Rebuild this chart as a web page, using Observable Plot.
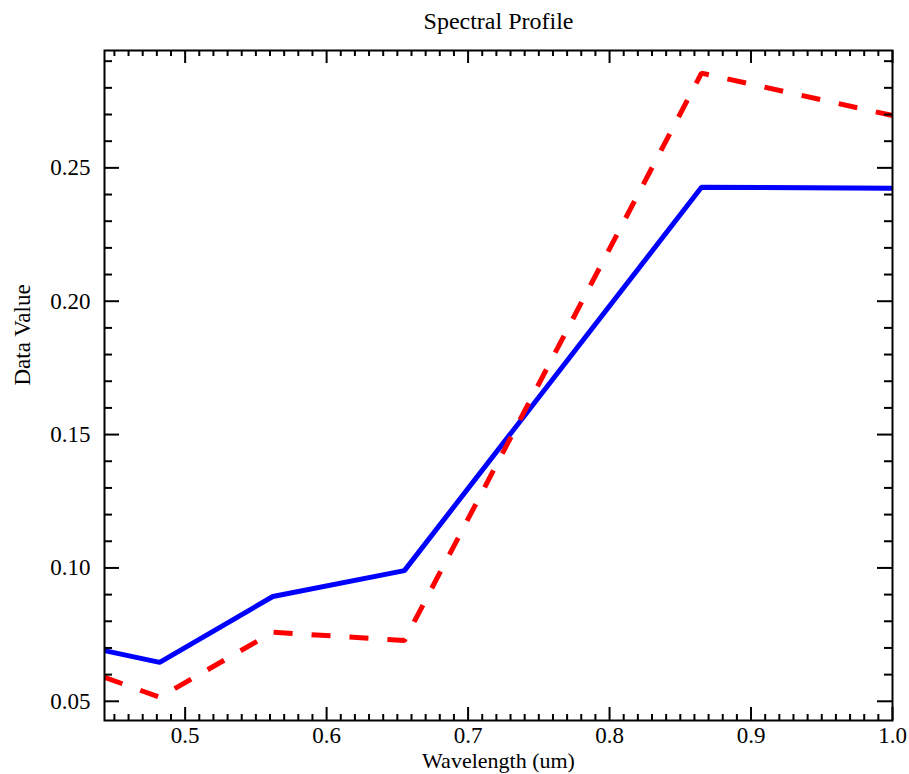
<!DOCTYPE html>
<html><head><meta charset="utf-8">
<script src="https://cdn.jsdelivr.net/npm/d3@7"></script>
<script src="https://cdn.jsdelivr.net/npm/@observablehq/plot@0.6"></script>
<style>body{margin:0;background:#fff}</style>
</head><body><div id="chart"></div>
<script>
// Data
const wavelengths = [0.443, 0.482, 0.562, 0.655, 0.865, 1.609];
const seriesBlue  = [0.069, 0.0646, 0.0893, 0.099, 0.2427, 0.241];
const seriesRed   = [0.059, 0.0515, 0.0759, 0.0728, 0.2855, 0.198];
const xTickValues = [0.5, 0.6, 0.7, 0.8, 0.9, 1.0];
const yTickValues = [0.05, 0.10, 0.15, 0.20, 0.25];
const titleText = "Spectral Profile";
const xLabelText = "Wavelength (um)";
const yLabelText = "Data Value";

const W = 909, H = 774;
const mL = 104, mR = 17, mT = 50, mB = 54;
const plotH = H - mT - mB, plotW = W - mL - mR;
const xDomain = [0.443, 1.0];
const yDomain = [0.0428, 0.294];

const xMinor = d3.range(45, 100).map(v => v / 100).filter(v => !xTickValues.some(t => Math.abs(t - v) < 1e-9));
const yMinor = d3.range(5, 30).map(v => v / 100).filter(v => !yTickValues.some(t => Math.abs(t - v) < 1e-9));

const blue = wavelengths.map((x, i) => ({x, y: seriesBlue[i]}));
const red  = wavelengths.map((x, i) => ({x, y: seriesRed[i]}));

const majX = 13, minX = 6, majY = 15, minY = 8;

const chart = Plot.plot({
  width: W, height: H,
  marginLeft: mL, marginRight: mR, marginTop: mT, marginBottom: mB,
  style: {fontFamily: "Liberation Serif", background: "#fff", color: "#000"},
  x: {domain: xDomain, axis: null},
  y: {domain: yDomain, axis: null},
  marks: [
    Plot.line(blue, {x: "x", y: "y", stroke: "#0000ff", strokeWidth: 5, strokeLinejoin: "miter", strokeLinecap: "butt", clip: true}),
    Plot.line(red, {x: "x", y: "y", stroke: "#ff0000", strokeWidth: 5, strokeDasharray: "19,19", strokeLinejoin: "miter", strokeLinecap: "butt", clip: true}),
    // bottom ticks
    Plot.tickX(xTickValues, {x: d => d, insetTop: plotH - majX, stroke: "#000", strokeWidth: 2}),
    Plot.tickX(xMinor, {x: d => d, insetTop: plotH - minX, stroke: "#000", strokeWidth: 2}),
    // top ticks
    Plot.tickX(xTickValues, {x: d => d, insetBottom: plotH - majX, stroke: "#000", strokeWidth: 2}),
    Plot.tickX(xMinor, {x: d => d, insetBottom: plotH - minX, stroke: "#000", strokeWidth: 2}),
    // left ticks
    Plot.tickY(yTickValues, {y: d => d, insetRight: plotW - majY, stroke: "#000", strokeWidth: 2}),
    Plot.tickY(yMinor, {y: d => d, insetRight: plotW - minY, stroke: "#000", strokeWidth: 2}),
    // right ticks
    Plot.tickY(yTickValues, {y: d => d, insetLeft: plotW - majY, stroke: "#000", strokeWidth: 2}),
    Plot.tickY(yMinor, {y: d => d, insetLeft: plotW - minY, stroke: "#000", strokeWidth: 2}),
    Plot.frame({stroke: "#000", strokeWidth: 2}),
    Plot.axisX({ticks: xTickValues, anchor: "bottom", tickSize: 0, tickPadding: 6, tickFormat: d3.format(".1f"), fontSize: 23, label: null}),
    Plot.axisY({ticks: yTickValues, anchor: "left", tickSize: 0, tickPadding: 14, tickFormat: d3.format(".2f"), fontSize: 23, label: null}),
    Plot.text([titleText], {frameAnchor: "top", lineAnchor: "top", dy: -39, fontSize: 24, fill: "#000"}),
    Plot.text([xLabelText], {frameAnchor: "bottom", lineAnchor: "bottom", dy: 47, fontSize: 22, fill: "#000"}),
    Plot.text([yLabelText], {frameAnchor: "left", dx: -82, rotate: -90, fontSize: 23, fill: "#000"})
  ]
});
document.getElementById("chart").appendChild(chart);
</script>
</body></html>
